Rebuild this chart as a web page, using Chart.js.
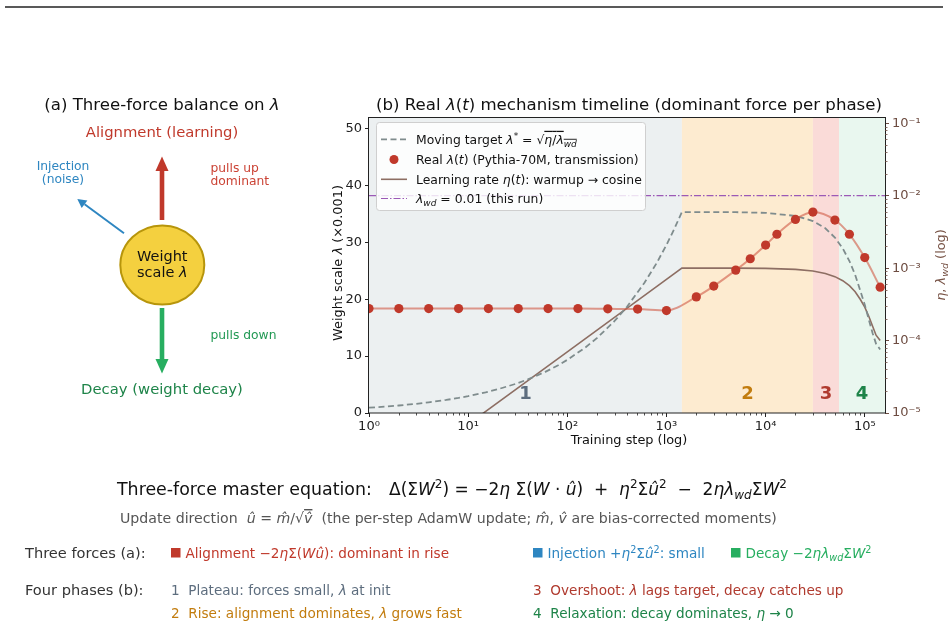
<!DOCTYPE html>
<html><head><meta charset="utf-8">
<script src="https://cdn.jsdelivr.net/npm/chart.js@4.4.0/dist/chart.umd.min.js"></script>
<style>
html,body{margin:0;padding:0;background:#fff;}
#wrap{position:relative;width:948px;height:628px;overflow:hidden;}
#c{position:absolute;left:0;top:0;}
#ov{position:absolute;left:0;top:0;pointer-events:none;}
svg text{font-family:'DejaVu Sans',sans-serif;white-space:pre;}
</style></head><body>
<div id="wrap">
<canvas id="c" width="948" height="628"></canvas>
<svg id="ov" width="948" height="628" xmlns="http://www.w3.org/2000/svg">
<line x1="5" y1="7" x2="943" y2="7" stroke="#222" stroke-width="1.5"/>
<!-- panel a -->
<text x="162" y="110" text-anchor="middle" font-size="16.6" fill="#111">(a) Three-force balance on <tspan font-style="italic">λ</tspan></text>
<text x="162" y="136.5" text-anchor="middle" font-size="14.8" fill="#c0392b">Alignment (learning)</text>
<line x1="162" y1="220" x2="162" y2="170" stroke="#c0392b" stroke-width="4.6"/>
<polygon points="162,156.5 155.5,171 168.5,171" fill="#c0392b"/>
<text x="63" y="170" text-anchor="middle" font-size="12.3" fill="#2e86c1">Injection</text>
<text x="63" y="183" text-anchor="middle" font-size="12.3" fill="#2e86c1">(noise)</text>
<line x1="124" y1="233.3" x2="84.6" y2="204.3" stroke="#2e86c1" stroke-width="2"/>
<polygon points="77.3,199 87.4,200.6 81.7,208.1" fill="#2e86c1"/>
<text x="210.5" y="171.5" font-size="12.3" fill="#cb4335">pulls up</text>
<text x="210.5" y="185" font-size="12.3" fill="#cb4335">dominant</text>
<ellipse cx="162.3" cy="265" rx="42" ry="39.5" fill="#f4d03f" stroke="#b7950b" stroke-width="2"/>
<text x="162.3" y="260.5" text-anchor="middle" font-size="14.5" fill="#111">Weight</text>
<text x="162.3" y="276.5" text-anchor="middle" font-size="14.5" fill="#111">scale <tspan font-style="italic">λ</tspan></text>
<line x1="162" y1="308" x2="162" y2="360" stroke="#27ae60" stroke-width="4.6"/>
<polygon points="162,373.5 155.5,359 168.5,359" fill="#27ae60"/>
<text x="210.5" y="338.5" font-size="12.3" fill="#229954">pulls down</text>
<text x="162" y="393.5" text-anchor="middle" font-size="14.8" fill="#1e8449">Decay (weight decay)</text>
<!-- panel b text -->
<text x="629" y="110" text-anchor="middle" font-size="16.6" fill="#111">(b) Real <tspan font-style="italic">λ</tspan>(<tspan font-style="italic">t</tspan>) mechanism timeline (dominant force per phase)</text>
<text x="629" y="444" text-anchor="middle" font-size="12.9" fill="#111">Training step (log)</text>
<text transform="translate(342,263) rotate(-90)" text-anchor="middle" font-size="12.9" fill="#111">Weight scale <tspan font-style="italic">λ</tspan> (×0.001)</text>
<text transform="translate(945,265) rotate(-90)" text-anchor="middle" font-size="12.9" fill="#795548"><tspan font-style="italic">η</tspan>, <tspan font-style="italic">λ</tspan><tspan dy="3" font-size="9.5" font-style="italic">wd</tspan><tspan dy="-3"> (log)</tspan></text>
<!-- legend -->
<rect x="376.5" y="122.5" width="269" height="88" rx="3" fill="#fff" fill-opacity="0.82" stroke="#cfcfcf" stroke-width="1"/>
<line x1="381" y1="139.3" x2="407" y2="139.3" stroke="#7f8c8d" stroke-width="1.8" stroke-dasharray="6,3.5"/>
<circle cx="394" cy="159.5" r="4.5" fill="#c0392b"/>
<line x1="381" y1="179.3" x2="407" y2="179.3" stroke="#8d6e63" stroke-width="1.6"/>
<line x1="381" y1="198.5" x2="407" y2="198.5" stroke="#9b59b6" stroke-width="1.2" stroke-dasharray="7,2,1.5,2"/>
<text x="416" y="143.8" font-size="12.4" fill="#111">Moving target <tspan font-style="italic">λ</tspan><tspan dy="-5" font-size="9">*</tspan><tspan dy="5"> = √</tspan><tspan text-decoration="overline"><tspan font-style="italic">η</tspan>/<tspan font-style="italic">λ</tspan><tspan dy="3" font-size="9" font-style="italic">wd</tspan></tspan></text>
<text x="416" y="164" font-size="12.4" fill="#111">Real <tspan font-style="italic">λ</tspan>(<tspan font-style="italic">t</tspan>) (Pythia-70M, transmission)</text>
<text x="416" y="183.8" font-size="12.4" fill="#111">Learning rate <tspan font-style="italic">η</tspan>(<tspan font-style="italic">t</tspan>): warmup → cosine</text>
<text x="416" y="203" font-size="12.4" fill="#111"><tspan font-style="italic">λ</tspan><tspan dy="3" font-size="9" font-style="italic">wd</tspan><tspan dy="-3"> = 0.01 (this run)</tspan></text>
<!-- equations -->
<text x="117" y="495" font-size="17.4" fill="#111">Three-force master equation:</text>
<text x="389" y="495" font-size="17" fill="#111">Δ(Σ<tspan font-style="italic">W</tspan><tspan dy="-7" font-size="12">2</tspan><tspan dy="7">) = −2</tspan><tspan font-style="italic">η</tspan> Σ(<tspan font-style="italic">W</tspan> · <tspan font-style="italic">û</tspan>)  +  <tspan font-style="italic">η</tspan><tspan dy="-7" font-size="12">2</tspan><tspan dy="7">Σ</tspan><tspan font-style="italic">û</tspan><tspan dy="-7" font-size="12">2</tspan><tspan dy="7">  −  2</tspan><tspan font-style="italic">ηλ</tspan><tspan dy="4" font-size="12" font-style="italic">wd</tspan><tspan dy="-4">Σ</tspan><tspan font-style="italic">W</tspan><tspan dy="-7" font-size="12">2</tspan></text>
<text x="120" y="523" font-size="14.15" fill="#555">Update direction  <tspan font-style="italic">û</tspan> = <tspan font-style="italic">m&#x302;</tspan>/√<tspan text-decoration="overline" font-style="italic">v&#x302;</tspan>  (the per-step AdamW update; <tspan font-style="italic">m&#x302;</tspan>, <tspan font-style="italic">v&#x302;</tspan> are bias-corrected moments)</text>
<!-- bottom rows -->
<text x="25" y="558" font-size="14.6" fill="#333">Three forces (a):</text>
<rect x="171" y="548" width="9.5" height="9.5" fill="#c0392b"/>
<text x="185.5" y="558" font-size="13.6" fill="#c0392b">Alignment −2<tspan font-style="italic">η</tspan>Σ(<tspan font-style="italic">Wû</tspan>): dominant in rise</text>
<rect x="533" y="548" width="9.5" height="9.5" fill="#2e86c1"/>
<text x="547.5" y="558" font-size="13.6" fill="#2e86c1">Injection +<tspan font-style="italic">η</tspan><tspan dy="-5.5" font-size="9.7">2</tspan><tspan dy="5.5">Σ</tspan><tspan font-style="italic">û</tspan><tspan dy="-5.5" font-size="9.7">2</tspan><tspan dy="5.5">: small</tspan></text>
<rect x="731" y="548" width="9.5" height="9.5" fill="#27ae60"/>
<text x="745.5" y="558" font-size="13.6" fill="#27ae60">Decay −2<tspan font-style="italic">ηλ</tspan><tspan dy="3.2" font-size="9.7" font-style="italic">wd</tspan><tspan dy="-3.2">Σ</tspan><tspan font-style="italic">W</tspan><tspan dy="-5.5" font-size="9.7">2</tspan></text>
<text x="25" y="595" font-size="14.6" fill="#333">Four phases (b):</text>
<text x="171" y="595" font-size="13.6" fill="#5d6d7e">1  Plateau: forces small, <tspan font-style="italic">λ</tspan> at init</text>
<text x="533" y="595" font-size="13.6" fill="#b03a2e">3  Overshoot: <tspan font-style="italic">λ</tspan> lags target, decay catches up</text>
<text x="171" y="618" font-size="13.6" fill="#c27c0e">2  Rise: alignment dominates, <tspan font-style="italic">λ</tspan> grows fast</text>
<text x="533" y="618" font-size="13.6" fill="#1e8449">4  Relaxation: decay dominates, <tspan font-style="italic">η</tspan> → 0</text>
</svg>
</div>
<script>
// ---------- data ----------
const dotSteps = [1,2,4,8,16,32,64,128,256,512,1000,2000,3000,5000,7000,10000,13000,20000,30000,50000,70000,100000,143000];
const realLambda = [18.35,18.35,18.35,18.35,18.35,18.35,18.35,18.35,18.3,18.25,18.0,20.4,22.3,25.1,27.1,29.5,31.4,34.0,35.3,33.9,31.4,27.3,22.1];
const targetSteps = [1,1.5,2,3,4,6,8,10,15,20,30,40,60,80,100,150,200,300,400,600,800,1000,1200,1430,3000,5000,10000,20000,30000,40000,50000,60000,70000,80000,90000,100000,110000,120000,130000,143000];
const targetLambda = [0.93,1.14,1.32,1.62,1.87,2.29,2.64,2.95,3.62,4.18,5.11,5.90,7.23,8.35,9.34,11.43,13.20,16.17,18.67,22.87,26.40,29.52,32.34,35.3,35.29,35.28,35.16,34.63,33.72,32.45,30.83,28.90,26.70,24.28,21.53,19.01,16.38,14.02,12.16,11.16];
const lrSteps = [1,10,100,1000,1430,3000,5000,10000,20000,30000,40000,50000,60000,70000,80000,90000,100000,110000,120000,130000,143000];
const learningRate = [7.0e-7,7.0e-6,7.0e-5,7.0e-4,1.0e-3,9.997e-4,9.986e-4,9.919e-4,9.623e-4,9.125e-4,8.45e-4,7.63e-4,6.705e-4,5.72e-4,4.73e-4,3.72e-4,2.90e-4,2.153e-4,1.578e-4,1.187e-4,1.0e-4];
const wdSteps = [1, 160000];
const lambdaWd = [0.01, 0.01];
const phaseEdges = [1, 1430, 30000, 55000, 160000];
const phaseLabels = ['1','2','3','4'];
const phaseLabelLevel = 3.3;
const xTickValues = [1,10,100,1000,10000,100000];
const xTickLabels = ['10⁰','10¹','10²','10³','10⁴','10⁵'];
const leftTickValues = [0,10,20,30,40,50];
const rightTickValues = [1e-5,1e-4,1e-3,1e-2,1e-1];
const rightTickLabels = ['10⁻⁵','10⁻⁴','10⁻³','10⁻²','10⁻¹'];

// ---------- styles ----------
const phaseFill = ['#ecf0f1','#fdebd0','#fadbd8','#e9f7ef'];
const phaseText = ['#5d6d7e','#c27c0e','#b03a2e','#1e8449'];

const zip = (xs, ys) => xs.map((x,i)=>({x:x, y:ys[i]}));

Chart.defaults.font.family = "'DejaVu Sans', sans-serif";
Chart.defaults.font.size = 13;
Chart.defaults.color = '#222';

const phasePlugin = {
  id: 'phases',
  beforeDatasetsDraw(chart) {
    const {ctx, chartArea: a, scales: {x, y}} = chart;
    ctx.save();
    for (let i = 0; i < phaseFill.length; i++) {
      const x0 = Math.max(a.left, x.getPixelForValue(phaseEdges[i]));
      const x1 = Math.min(a.right, x.getPixelForValue(phaseEdges[i+1]));
      ctx.fillStyle = phaseFill[i];
      ctx.fillRect(x0, a.top, x1 - x0, a.bottom - a.top);
    }
    ctx.font = "bold 18px 'DejaVu Sans'";
    ctx.textAlign = 'center';
    ctx.textBaseline = 'middle';
    for (let i = 0; i < phaseLabels.length; i++) {
      const cx = x.getPixelForValue(Math.sqrt(phaseEdges[i] * phaseEdges[i+1]));
      ctx.fillStyle = phaseText[i];
      ctx.fillText(phaseLabels[i], cx, y.getPixelForValue(phaseLabelLevel));
    }
    ctx.restore();
  },
  afterDraw(chart) {
    const {ctx, chartArea: a, scales: {x, y2}} = chart;
    ctx.save();
    ctx.strokeStyle = '#222';
    ctx.lineWidth = 1;
    ctx.strokeRect(Math.round(a.left) - 0.5, Math.round(a.top) + 0.5, Math.round(a.right - a.left) + 1, Math.round(a.bottom - a.top) - 0.5);
    // minor ticks x
    ctx.lineWidth = 0.8;
    ctx.beginPath();
    for (let e = 0; e <= 5; e++) {
      for (let m = 2; m <= 9; m++) {
        const v = m * Math.pow(10, e);
        if (v > x.max) continue;
        const px = Math.round(x.getPixelForValue(v)) + 0.5;
        ctx.moveTo(px, a.bottom); ctx.lineTo(px, a.bottom + 2.5);
      }
    }
    ctx.stroke();
    ctx.strokeStyle = '#6d4c41';
    ctx.beginPath();
    for (let e = -5; e <= -1; e++) {
      for (let m = 2; m <= 9; m++) {
        const v = m * Math.pow(10, e);
        if (v > y2.max) continue;
        const py = Math.round(y2.getPixelForValue(v)) + 0.5;
        ctx.moveTo(a.right, py); ctx.lineTo(a.right + 2.5, py);
      }
    }
    ctx.stroke();
    ctx.restore();
  }
};

new Chart(document.getElementById('c'), {
  type: 'line',
  data: {
    datasets: [
      { label: 'real', data: zip(dotSteps, realLambda), yAxisID: 'y',
        borderColor: 'rgba(210,95,75,0.62)', borderWidth: 2, cubicInterpolationMode: 'monotone',
        pointRadius: 4.6, pointBackgroundColor: '#c0392b', pointBorderWidth: 0, order: 0 },
      { label: 'target', data: zip(targetSteps, targetLambda), yAxisID: 'y',
        borderColor: '#7f8c8d', borderWidth: 1.8, borderDash: [6, 3.5], pointRadius: 0, tension: 0, order: 1 },
      { label: 'lr', data: zip(lrSteps, learningRate), yAxisID: 'y2',
        borderColor: '#8d6e63', borderWidth: 1.6, pointRadius: 0, tension: 0, order: 2 },
      { label: 'wd', data: zip(wdSteps, lambdaWd), yAxisID: 'y2',
        borderColor: '#9b59b6', borderWidth: 1.2, borderDash: [7, 2, 1.5, 2], pointRadius: 0, order: 3 }
    ]
  },
  options: {
    responsive: false, animation: false, devicePixelRatio: 1,
    layout: { padding: { top: 117, left: 0, right: 0, bottom: 0 } },
    plugins: { legend: { display: false }, tooltip: { enabled: false } },
    events: [],
    scales: {
      x: {
        type: 'logarithmic', position: 'bottom', min: 1, max: 160000, bounds: 'data',
        afterBuildTicks: s => { s.ticks = xTickValues.map(v => ({value: v})); },
        afterFit: s => { s.height = 628 - 413; },
        ticks: { callback: (v, i) => xTickLabels[i], autoSkip: false, maxRotation: 0, padding: 2, color: '#222' },
        grid: { drawOnChartArea: false, drawTicks: true, tickLength: 4, color: '#222' },
        border: { display: false }
      },
      y: {
        type: 'linear', position: 'left', min: 0, max: 52, bounds: 'data',
        afterBuildTicks: s => { s.ticks = leftTickValues.map(v => ({value: v})); },
        afterFit: s => { s.width = 369; },
        ticks: { callback: v => String(v), padding: 3, color: '#222' },
        grid: { drawOnChartArea: false, drawTicks: true, tickLength: 4, color: '#222' },
        border: { display: false }
      },
      y2: {
        type: 'logarithmic', position: 'right', min: 1e-5, max: 0.122, bounds: 'data',
        afterBuildTicks: s => { s.ticks = rightTickValues.map(v => ({value: v})); },
        afterFit: s => { s.width = 948 - 885; },
        ticks: { callback: (v, i) => rightTickLabels[i], padding: 3, color: '#6d4c41' },
        grid: { drawOnChartArea: false, drawTicks: true, tickLength: 4, color: '#6d4c41' },
        border: { display: false }
      }
    }
  },
  plugins: [phasePlugin]
});
</script>
</body></html>
